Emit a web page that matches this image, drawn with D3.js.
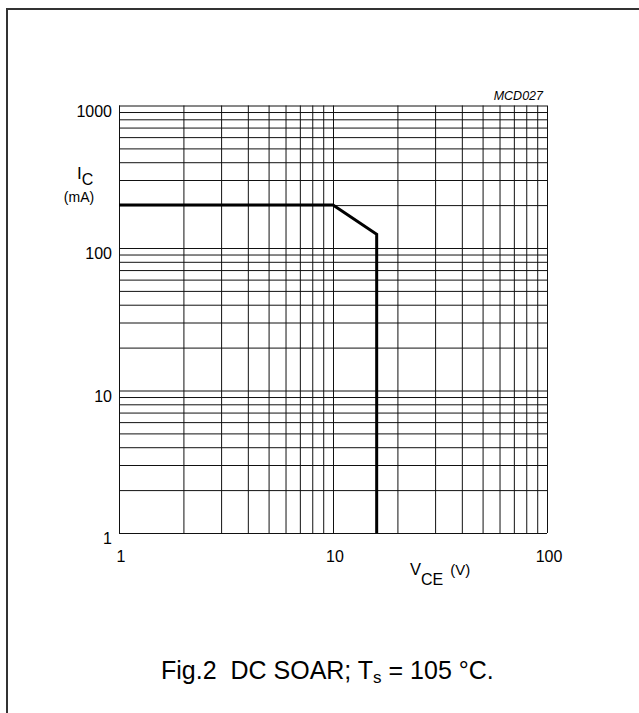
<!DOCTYPE html>
<html>
<head>
<meta charset="utf-8">
<script src="https://cdn.jsdelivr.net/npm/d3@7"></script>
<style>
  body { margin: 0; background: #fff; }
  svg { display: block; font-family: 'Liberation Sans', Arial, sans-serif; }
  text { white-space: pre; }
</style>
</head>
<body>
<div id="chart"></div>
<script>
// DC SOAR, Ts = 105 C
const xLabels = [1, 10, 100];
const yLabels = [1, 10, 100, 1000];
const xGrid = [1, 2, 3, 4, 5, 6, 7, 8, 9, 10, 20, 30, 40, 50, 60, 70, 80, 90, 100];
const yGrid = [1, 2, 3, 4, 5, 6, 7, 8, 9, 10, 20, 30, 40, 50, 60, 70, 80, 90,
  100, 200, 300, 400, 500, 600, 700, 800, 900, 1000];
// limit curve: V_CE (V) and I_C (mA)
const soarV = [1, 10, 16, 16];
const soarI = [200, 200, 125, 1];

const width = 639, height = 713;
const plotLeft = 119, plotRight = 547, plotTop = 105.5, plotBottom = 533;

const svg = d3.select('#chart').append('svg')
  .attr('width', width)
  .attr('height', height);

// outer frame
svg.append('rect')
  .attr('x', 7).attr('y', 9)
  .attr('width', 800).attr('height', 800)
  .attr('fill', 'none')
  .attr('stroke', '#333')
  .attr('stroke-width', 2);

const x = d3.scaleLog().domain([1, 100]).range([plotLeft, plotRight]);
const y = d3.scaleLog().domain([1, 1000]).range([plotBottom, plotTop]);

// grid
svg.append('g')
  .attr('transform', `translate(0,${plotBottom})`)
  .call(d3.axisBottom(x).tickValues(xGrid).tickSize(-(plotBottom - plotTop)).tickFormat(''))
  .call(g => g.select('.domain').remove())
  .call(g => g.selectAll('line').attr('stroke', '#111'));

svg.append('g')
  .attr('transform', `translate(${plotLeft},0)`)
  .call(d3.axisLeft(y).tickValues(yGrid).tickSize(-(plotRight - plotLeft)).tickFormat(''))
  .call(g => g.select('.domain').remove())
  .call(g => g.selectAll('line').attr('stroke', '#111'));

// tick labels
svg.append('g')
  .selectAll('text')
  .data(yLabels)
  .join('text')
  .attr('x', 112)
  .attr('y', d => y(d) + 11)
  .attr('text-anchor', 'end')
  .attr('font-size', 16)
  .text(d => d);

svg.append('g')
  .selectAll('text')
  .data(xLabels)
  .join('text')
  .attr('x', d => x(d) + 2)
  .attr('y', 562)
  .attr('text-anchor', 'middle')
  .attr('font-size', 16)
  .text(d => d);

// SOAR limit
const line = d3.line()
  .x(d => x(d[0]))
  .y(d => y(d[1]));

svg.append('path')
  .datum(soarV.map((v, i) => [v, soarI[i]]))
  .attr('d', line)
  .attr('fill', 'none')
  .attr('stroke', '#000')
  .attr('stroke-width', 3)
  .attr('stroke-linejoin', 'miter');

// axis titles
const yt = svg.append('text').attr('x', 77).attr('y', 179).attr('font-size', 17);
yt.append('tspan').text('I');
yt.append('tspan').attr('dy', 6).attr('font-size', 16).text('C');
svg.append('text')
  .attr('x', 79).attr('y', 202)
  .attr('text-anchor', 'middle')
  .attr('font-size', 14)
  .text('(mA)');

const xt = svg.append('text').attr('x', 410).attr('y', 575).attr('font-size', 16.5);
xt.append('tspan').text('V');
xt.append('tspan').attr('dy', 10).attr('font-size', 16).text('CE');
xt.append('tspan').attr('dy', -10).attr('dx', 7).attr('font-size', 15).text('(V)');

svg.append('text')
  .attr('x', 543).attr('y', 100)
  .attr('text-anchor', 'end')
  .attr('font-size', 12.5)
  .attr('font-style', 'italic')
  .text('MCD027');

// caption
const cap = svg.append('text')
  .attr('x', 161).attr('y', 679)
  .attr('font-size', 25);
cap.append('tspan').text('Fig.2  DC SOAR; T');
cap.append('tspan').attr('dy', 4).attr('font-size', 17).text('s');
cap.append('tspan').attr('dy', -4).text(' = 105 \u00B0C.');
</script>
</body>
</html>
